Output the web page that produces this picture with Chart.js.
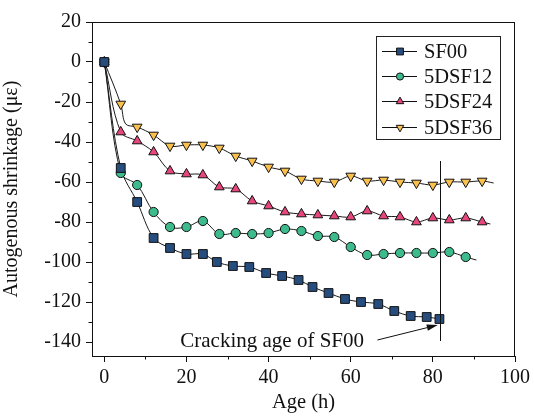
<!DOCTYPE html>
<html>
<head>
<meta charset="utf-8">
<script src="https://cdn.jsdelivr.net/npm/chart.js@4.4.1/dist/chart.umd.min.js"></script>
<style>
  html, body { margin: 0; padding: 0; background: #fff; }
  #wrap { width: 534px; height: 417px; }
  .probe { font-family: "Liberation Serif", "DejaVu Serif", serif; position: absolute; left: -999px; top: 0; font-size: 20px; }
</style>
</head>
<body>
<div id="wrap"><canvas id="c" width="534" height="417"></canvas></div>
<span class="probe">Age (h) 0123456789 με</span>
<script>
// ---- data ----
const seriesNames = ['SF00', '5DSF12', '5DSF24', '5DSF36'];

const sf00Hours = [0, 4, 8, 12, 16, 20, 24, 27.4, 31.3, 35.3, 39.4, 43.3, 47.3, 50.7, 54.6, 58.6, 62.5, 66.7, 70.6, 74.6, 78.5, 81.6];
const sf00Vals  = [0, -53, -70, -88, -93, -96, -96, -100, -102, -102.5, -105.5, -107, -109, -112.5, -115.5, -118.5, -120, -121, -124.5, -127, -127.5, -128.5];

const sf12Hours = [0, 4, 8, 12, 16, 20, 24, 28, 32, 36, 40, 44, 48, 52, 56, 60, 64, 68, 72, 76, 80, 84, 88];
const sf12Vals  = [0, -55.5, -61.5, -75, -82.5, -82.5, -79.5, -86, -85.5, -86, -85.5, -83.5, -84.5, -87, -87.5, -92.5, -96.5, -96, -95.5, -95.5, -95.5, -95, -97.5];
const sf12TailHours = [90.6];
const sf12TailVals  = [-99];

const sf24Hours = [0, 4, 8, 12, 16, 20, 24, 28, 32, 36, 40, 44, 48, 52, 56, 60, 64, 68, 72, 76, 80, 84, 88, 92];
const sf24Vals  = [0, -35, -39.5, -45, -54.5, -56, -56.5, -62.5, -63.5, -69.5, -72, -75, -76, -76.5, -77, -77.5, -74.5, -77, -77.5, -80, -78, -79, -78, -80];
const sf24TailHours = [94];
const sf24TailVals  = [-81];

const sf36Hours = [0, 4, 8, 12, 16, 20, 24, 28, 32, 36, 40, 44, 48, 52, 56, 60, 64, 68, 72, 76, 80, 84, 88, 92];
const sf36Vals  = [0, -21, -32.5, -36.5, -42, -41.5, -41.5, -43, -47, -49.5, -52.5, -54.5, -58.5, -59.5, -60, -57, -59.5, -59, -60, -60.5, -61.5, -60, -60, -59.5];
const sf36ExtraHours = [5.2, 94.8];
const sf36ExtraVals  = [-31, -60.5];

const xTickValues = [0, 10, 20, 30, 40, 50, 60, 70, 80, 90, 100];
const yTickValues = [20, 10, 0, -10, -20, -30, -40, -50, -60, -70, -80, -90, -100, -110, -120, -130, -140];

const crackAge = 81.8;
const crackLineTop = -49.5;
const crackLineBottom = -139.5;
const crackLabel = 'Cracking age of SF00';
const crackLabelPos = [18.5, -139.5];   // hours, value (left/middle of text)
const arrowFrom = [66.5, -139];
const arrowTo = [81.2, -131.5];

// ---- styling ----
const FONT = 'Liberation Serif, DejaVu Serif, serif';
const colors = ['#264d7e', '#3dbb8c', '#e8467a', '#f9c04e'];
const styles = [
  { pointStyle: 'rect', radius: 6.2, rotation: 0 },
  { pointStyle: 'circle', radius: 4.6, rotation: 0 },
  { pointStyle: 'triangle', radius: 5.6, rotation: 0 },
  { pointStyle: 'triangle', radius: 5.6, rotation: 180 }
];

function pts(h, v) { return h.map((x, i) => ({ x: x, y: v[i] })); }
function merge(a, b) { return a.concat(b).sort((p, q) => p.x - q.x); }

const markerData = [
  pts(sf00Hours, sf00Vals),
  pts(sf12Hours, sf12Vals),
  pts(sf24Hours, sf24Vals),
  pts(sf36Hours, sf36Vals)
];
const lineData = [
  pts(sf00Hours, sf00Vals),
  merge(pts(sf12Hours, sf12Vals), pts(sf12TailHours, sf12TailVals)),
  merge(pts(sf24Hours, sf24Vals), pts(sf24TailHours, sf24TailVals)),
  merge(pts(sf36Hours, sf36Vals), pts(sf36ExtraHours, sf36ExtraVals))
];

const datasets = [];
for (let i = 0; i < 4; i++) {
  datasets.push({
    label: seriesNames[i] + ' line',
    data: lineData[i],
    showLine: true,
    borderColor: '#1a1a1a',
    borderWidth: 1,
    pointRadius: 0,
    tension: 0.35,
    fill: false,
    order: 2
  });
}
for (let i = 0; i < 4; i++) {
  datasets.push({
    label: seriesNames[i],
    data: markerData[i],
    showLine: false,
    pointStyle: styles[i].pointStyle,
    pointRadius: styles[i].radius,
    pointRotation: styles[i].rotation,
    pointBackgroundColor: colors[i],
    pointBorderColor: '#111',
    pointBorderWidth: 1,
    order: 1
  });
}

const decorPlugin = {
  id: 'decor',
  afterDraw(chart) {
    const ctx = chart.ctx;
    const xs = chart.scales.x, ys = chart.scales.y;
    const a = chart.chartArea;
    ctx.save();
    // frame
    ctx.strokeStyle = '#111';
    ctx.lineWidth = 1;
    ctx.strokeRect(a.left + 0.5, a.top + 0.5, a.right - a.left - 1, a.bottom - a.top);
    // minor ticks
    ctx.beginPath();
    xTickValues.forEach(v => {
      if (v % 20 !== 0) {
        const px = Math.round(xs.getPixelForValue(v)) + 0.5;
        ctx.moveTo(px, a.bottom); ctx.lineTo(px, a.bottom + 3.5);
      }
    });
    yTickValues.forEach(v => {
      if (v % 20 !== 0) {
        const py = Math.round(ys.getPixelForValue(v)) + 0.5;
        ctx.moveTo(a.left, py); ctx.lineTo(a.left - 3.5, py);
      }
    });
    ctx.stroke();
    // cracking line
    const cx = Math.round(xs.getPixelForValue(crackAge)) + 0.5;
    ctx.beginPath();
    ctx.moveTo(cx, ys.getPixelForValue(crackLineTop));
    ctx.lineTo(cx, ys.getPixelForValue(crackLineBottom));
    ctx.stroke();
    // arrow
    const x1 = xs.getPixelForValue(arrowFrom[0]), y1 = ys.getPixelForValue(arrowFrom[1]);
    const x2 = xs.getPixelForValue(arrowTo[0]), y2 = ys.getPixelForValue(arrowTo[1]);
    const ang = Math.atan2(y2 - y1, x2 - x1);
    const hl = 11, hw = 3.2;
    ctx.beginPath();
    ctx.moveTo(x1, y1);
    ctx.lineTo(x2 - hl * Math.cos(ang), y2 - hl * Math.sin(ang));
    ctx.stroke();
    ctx.fillStyle = '#111';
    ctx.beginPath();
    ctx.moveTo(x2, y2);
    ctx.lineTo(x2 - hl * Math.cos(ang) + hw * Math.sin(ang), y2 - hl * Math.sin(ang) - hw * Math.cos(ang));
    ctx.lineTo(x2 - hl * Math.cos(ang) - hw * Math.sin(ang), y2 - hl * Math.sin(ang) + hw * Math.cos(ang));
    ctx.closePath();
    ctx.fill();
    // annotation text
    ctx.font = '21px ' + FONT;
    ctx.fillStyle = '#111';
    ctx.textAlign = 'left';
    ctx.textBaseline = 'middle';
    ctx.fillText(crackLabel, xs.getPixelForValue(crackLabelPos[0]), ys.getPixelForValue(crackLabelPos[1]));
    // legend
    const lx = 376, ly = 36, lw = 124, lh = 103;
    ctx.fillStyle = '#fff';
    ctx.fillRect(lx, ly, lw, lh);
    ctx.strokeStyle = '#222';
    ctx.strokeRect(lx + 0.5, ly + 0.5, lw, lh);
    for (let i = 0; i < 4; i++) {
      const ey = Math.round(ly + 15 + i * 25.2) + 0.5;
      ctx.strokeStyle = '#111';
      ctx.lineWidth = 1;
      ctx.beginPath();
      ctx.moveTo(lx + 6, ey); ctx.lineTo(lx + 41, ey);
      ctx.stroke();
      ctx.fillStyle = colors[i];
      Chart.helpers.drawPoint(ctx, {
        pointStyle: styles[i].pointStyle,
        radius: styles[i].radius * 0.78,
        rotation: styles[i].rotation,
        borderWidth: 1
      }, lx + 24, ey);
      ctx.fillStyle = '#111';
      ctx.font = '20.5px ' + FONT;
      ctx.textAlign = 'left';
      ctx.textBaseline = 'middle';
      ctx.fillText(seriesNames[i], lx + 48, ey + 1);
    }
    ctx.restore();
  }
};

function build() {
  new Chart(document.getElementById('c'), {
    type: 'scatter',
    data: { datasets: datasets },
    options: {
      responsive: false,
      animation: false,
      layout: { padding: { left: 0, right: 17, top: 22, bottom: 0 } },
      plugins: { legend: { display: false }, tooltip: { enabled: false } },
      scales: {
        x: {
          type: 'linear',
          min: -3,
          max: 100,
          afterBuildTicks: s => { s.ticks = xTickValues.map(v => ({ value: v })); },
          afterFit: s => { s.height = 61; },
          grid: {
            drawOnChartArea: false, drawTicks: true, tickLength: 6,
            tickColor: c => (c.tick && c.tick.value % 20 === 0) ? '#111' : 'rgba(0,0,0,0)'
          },
          border: { display: true, color: '#111', width: 1 },
          ticks: {
            color: '#111', padding: 4, maxRotation: 0, autoSkip: false,
            font: { family: FONT, size: 20 },
            callback: v => (v % 20 === 0 ? String(v) : '')
          },
          title: {
            display: true, text: 'Age (h)', color: '#111',
            font: { family: FONT, size: 20.5 }, padding: { top: 0, bottom: 2 }
          }
        },
        y: {
          type: 'linear',
          min: -147,
          max: 20,
          afterBuildTicks: s => { s.ticks = yTickValues.map(v => ({ value: v })); },
          afterFit: s => { s.width = 92; },
          grid: {
            drawOnChartArea: false, drawTicks: true, tickLength: 6,
            tickColor: c => (c.tick && c.tick.value % 20 === 0) ? '#111' : 'rgba(0,0,0,0)'
          },
          border: { display: true, color: '#111', width: 1 },
          ticks: {
            color: '#111', padding: 5, autoSkip: false,
            font: { family: FONT, size: 20 },
            callback: v => (v % 20 === 0 ? String(v) : '')
          },
          title: {
            display: true, text: 'Autogenous shrinkage (με)', color: '#111',
            font: { family: FONT, size: 20 }, padding: { top: 0, bottom: 0 }
          }
        }
      }
    },
    plugins: [decorPlugin]
  });
}

if (document.fonts && document.fonts.load) {
  document.fonts.load('20px "Liberation Serif"').then(build, build);
} else {
  build();
}
</script>
</body>
</html>
